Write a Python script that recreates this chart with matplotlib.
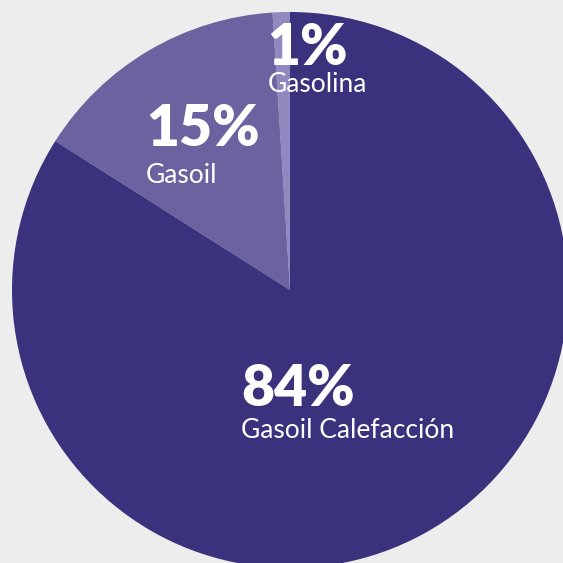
import matplotlib
matplotlib.use("Agg")
import matplotlib.pyplot as plt

categories = ["Gasolina", "Gasoil", "Gasoil Calefacción"]
values = [1, 15, 84]
pct_labels = ["1%", "15%", "84%"]
colors = ["#9089c0", "#6c62a0", "#3a327c"]

W = H = 563
fig = plt.figure(figsize=(W / 100, H / 100), dpi=100, facecolor="#ededed")
ax = fig.add_axes([0, 0, 1, 1])
ax.set_facecolor("#ededed")

cx, cy, r = 290, 290, 278  # pixel geometry
ax.pie(values, colors=colors, startangle=90, counterclock=True, radius=1,
       wedgeprops=dict(linewidth=0))
ax.set_xlim(-cx / r, (W - cx) / r)
ax.set_ylim(-(H - cy) / r, cy / r)
ax.set_aspect("auto")
ax.axis("off")

# label positions in pixels (left x, baseline y)
pct_pos = [(267, 65), (146, 146), (241, 406)]
name_pos = [(268, 92), (146, 183), (241, 438)]
for p, n, (px, py), (nx, ny) in zip(pct_labels, categories, pct_pos, name_pos):
    fig.text(px / W, 1 - py / H, p, color="white", fontsize=41, fontweight="heavy",
             family="Lato", ha="left", va="baseline")
    fig.text(nx / W, 1 - ny / H, n, color="white", fontsize=19,
             family="Lato", ha="left", va="baseline")

fig.savefig("out.png", dpi=100, facecolor=fig.get_facecolor())
